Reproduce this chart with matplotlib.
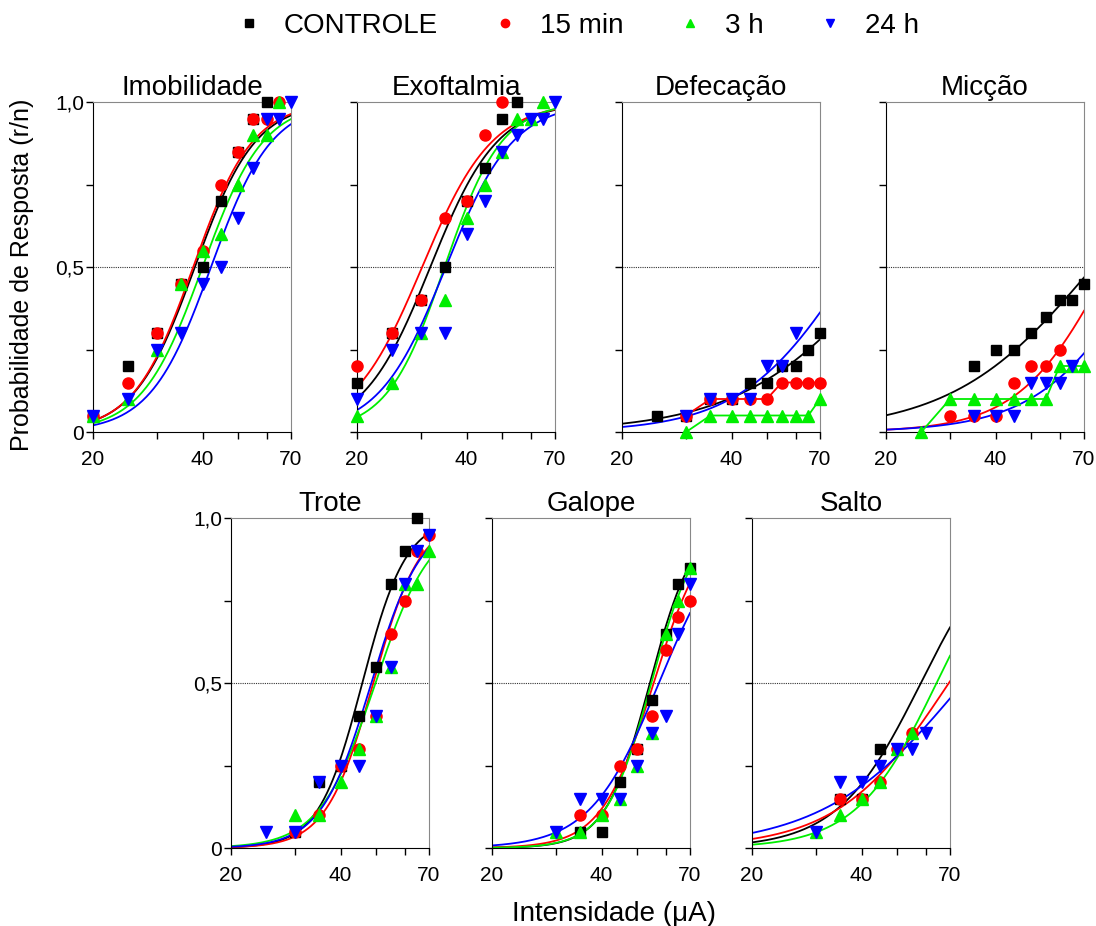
import numpy as np
import matplotlib
matplotlib.use('Agg')
import matplotlib.pyplot as plt
from matplotlib.lines import Line2D
from matplotlib.ticker import FixedLocator

plt.rcParams['font.family'] = ['Liberation Sans', 'DejaVu Sans']

nan = np.nan
doses = [20, 25, 30, 35, 40, 45, 50, 55, 60, 65, 70]
groups = ['CONTROLE', '15 min', '3 h', '24 h']
colors = {'CONTROLE': 'black', '15 min': '#ff0000', '3 h': '#00ee00', '24 h': '#0000ff'}
markers = {'CONTROLE': ('s', 7.5), '15 min': ('o', 8), '3 h': ('^', 8.5), '24 h': ('v', 8.5)}

# response probabilities (r/n) per dose
imobilidade = {
    'CONTROLE': [0.05, 0.20, 0.30, 0.45, 0.50, 0.70, 0.85, 0.95, 1.0, nan, nan],
    '15 min':   [0.05, 0.15, 0.30, 0.45, 0.55, 0.75, 0.85, 0.95, 0.95, 1.0, nan],
    '3 h':      [0.05, 0.10, 0.25, 0.45, 0.55, 0.60, 0.75, 0.90, 0.90, 1.0, nan],
    '24 h':     [0.05, 0.10, 0.25, 0.30, 0.45, 0.50, 0.65, 0.80, 0.95, 0.95, 1.0],
}
exoftalmia = {
    'CONTROLE': [0.15, 0.30, 0.40, 0.50, 0.70, 0.80, 0.95, 1.0, nan, nan, nan],
    '15 min':   [0.20, 0.30, 0.40, 0.65, 0.70, 0.90, 1.0, nan, nan, nan, nan],
    '3 h':      [0.05, 0.15, 0.30, 0.40, 0.65, 0.75, 0.85, 0.95, 0.95, 1.0, nan],
    '24 h':     [0.10, 0.25, 0.30, 0.30, 0.60, 0.70, 0.85, 0.90, 0.95, 0.95, 1.0],
}
defecacao = {
    'CONTROLE': [nan, 0.05, 0.05, 0.10, 0.10, 0.15, 0.15, 0.20, 0.20, 0.25, 0.30],
    '15 min':   [nan, nan, 0.05, 0.10, 0.10, 0.10, 0.10, 0.15, 0.15, 0.15, 0.15],
    '3 h':      [nan, nan, 0.0, 0.05, 0.05, 0.05, 0.05, 0.05, 0.05, 0.05, 0.10],
    '24 h':     [nan, nan, 0.05, 0.10, 0.10, 0.10, 0.20, 0.20, 0.30, nan, nan],
}
miccao = {
    'CONTROLE': [nan, nan, nan, 0.20, 0.25, 0.25, 0.30, 0.35, 0.40, 0.40, 0.45],
    '15 min':   [nan, nan, 0.05, 0.05, 0.05, 0.15, 0.20, 0.20, 0.25, nan, nan],
    '3 h':      [nan, 0.0, 0.10, 0.10, 0.10, 0.10, 0.10, 0.10, 0.20, 0.20, 0.20],
    '24 h':     [nan, nan, nan, 0.05, 0.05, 0.05, 0.15, 0.15, 0.15, 0.20, nan],
}
trote = {
    'CONTROLE': [nan, nan, 0.05, 0.20, 0.25, 0.40, 0.55, 0.80, 0.90, 1.0, nan],
    '15 min':   [nan, nan, 0.05, 0.10, 0.25, 0.30, 0.40, 0.65, 0.75, 0.90, 0.95],
    '3 h':      [nan, nan, 0.10, 0.10, 0.20, 0.30, 0.40, 0.55, 0.80, 0.80, 0.90],
    '24 h':     [nan, 0.05, 0.05, 0.20, 0.25, 0.25, 0.40, 0.55, 0.80, 0.90, 0.95],
}
galope = {
    'CONTROLE': [nan, nan, nan, 0.05, 0.05, 0.20, 0.30, 0.45, 0.65, 0.80, 0.85],
    '15 min':   [nan, nan, nan, 0.10, 0.10, 0.25, 0.30, 0.40, 0.60, 0.70, 0.75],
    '3 h':      [nan, nan, 0.05, 0.05, 0.10, 0.15, 0.25, 0.35, 0.65, 0.75, 0.85],
    '24 h':     [nan, nan, 0.05, 0.15, 0.15, 0.15, 0.25, 0.35, 0.40, 0.65, 0.80],
}
salto = {
    'CONTROLE': [nan, nan, nan, 0.15, 0.15, 0.30, nan, nan, nan, nan, nan],
    '15 min':   [nan, nan, nan, 0.15, 0.15, 0.20, 0.30, 0.35, nan, nan, nan],
    '3 h':      [nan, nan, 0.05, 0.10, 0.15, 0.20, 0.30, 0.35, nan, nan, nan],
    '24 h':     [nan, nan, 0.05, 0.20, 0.20, 0.25, 0.30, 0.30, 0.35, nan, nan],
}

# fitted curves: (I50 in uA, slope); None = points joined by lines
imobilidade_fit = {'CONTROLE': (38.1, 5.2), '15 min': (37.7, 5.3), '3 h': (40.0, 5.2), '24 h': (42.2, 5.2)}
exoftalmia_fit = {'CONTROLE': (31.8, 4.7), '15 min': (30.2, 4.5), '3 h': (34.8, 5.5), '24 h': (35.1, 4.7)}
defecacao_fit = {'CONTROLE': (108.0, 2.17), '15 min': None, '3 h': None, '24 h': (85.2, 2.88)}
miccao_fit = {'CONTROLE': (74.1, 2.24), '15 min': (81.7, 3.52), '3 h': None, '24 h': (102.8, 3.02)}
trote_fit = {'CONTROLE': (45.9, 7.2), '15 min': (49.2, 6.7), '3 h': (49.9, 5.65), '24 h': (48.6, 6.3)}
galope_fit = {'CONTROLE': (54.3, 7.1), '15 min': (55.6, 6.1), '3 h': (54.8, 6.9), '24 h': (57.5, 4.6)}
salto_fit = {'CONTROLE': (58.2, 3.8), '15 min': (69.5, 2.87), '3 h': (64.3, 3.93), '24 h': (76.0, 2.28)}

panels = [
    ('Imobilidade', imobilidade, imobilidade_fit, [93, 102]),
    ('Exoftalmia', exoftalmia, exoftalmia_fit, [357, 102]),
    ('Defecação', defecacao, defecacao_fit, [622, 102]),
    ('Micção', miccao, miccao_fit, [886, 102]),
    ('Trote', trote, trote_fit, [231, 518]),
    ('Galope', galope, galope_fit, [492, 518]),
    ('Salto', salto, salto_fit, [752, 518]),
]

W, H = 1096, 926
fig = plt.figure(figsize=(W / 100, H / 100), dpi=100)

xs = np.linspace(20, 70, 300)
for i, (title, data, fits, (px, py)) in enumerate(panels):
    ax = fig.add_axes([px / W, 1 - (py + 330) / H, 198 / W, 330 / H])
    ax.set_xscale('log')
    ax.set_xlim(20, 70)
    ax.set_ylim(0, 1)
    ax.axhline(0.5, color='#333333', ls=(0, (1, 1)), lw=0.8, zorder=1)
    for g in groups:
        y = np.array(data[g], dtype=float)
        m, ms = markers[g]
        fit = fits[g]
        if fit is None:
            ok = ~np.isnan(y)
            ax.plot(np.array(doses)[ok], y[ok], color=colors[g], lw=1.3,
                    marker=m, ms=ms, clip_on=False, zorder=3)
        else:
            c, k = fit
            yc = 1 / (1 + np.exp(-k * (np.log(xs) - np.log(c))))
            ax.plot(xs, yc, color=colors[g], lw=1.3, zorder=2)
            ax.plot(doses, y, ls='none', color=colors[g], marker=m, ms=ms,
                    clip_on=False, zorder=3)
    ax.set_title(title, fontsize=20, pad=5)
    ax.xaxis.set_major_locator(FixedLocator([20, 30, 40, 50, 60, 70]))
    ax.xaxis.set_minor_locator(FixedLocator([]))
    ax.set_xticklabels(['20', '', '40', '', '', '70'])
    ax.set_yticks([0, 0.5, 1.0])
    ax.set_yticks([0.25, 0.75], minor=True)
    if i in (0, 4):
        ax.set_yticklabels(['0', '0,5', '1,0'])
    else:
        ax.set_yticklabels([])
    ax.tick_params(axis='both', which='both', direction='out', length=5,
                   width=1, labelsize=15, top=False, right=False)
    ax.tick_params(axis='x', pad=8)
    ax.tick_params(axis='y', pad=1.5)
    for s in ['top', 'right']:
        ax.spines[s].set_color('#888888')
    for s in ['left', 'bottom']:
        ax.spines[s].set_color('black')

handles = [Line2D([], [], ls='none', color=colors[g], marker=markers[g][0], ms=6)
           for g in groups]
fig.legend(handles, groups, loc='center', bbox_to_anchor=(577 / W, 1 - 26 / H),
           ncol=4, frameon=False, fontsize=20, handlelength=1.0,
           handletextpad=0.76, columnspacing=1.9)

fig.text(22 / W, 1 - 275 / H, 'Probabilidade de Resposta (r/n)', rotation=90,
         ha='center', va='center', fontsize=18)
fig.text(614 / W, 1 - 914 / H, 'Intensidade (μA)', ha='center', va='center', fontsize=20)

fig.savefig('out.png', dpi=100)
